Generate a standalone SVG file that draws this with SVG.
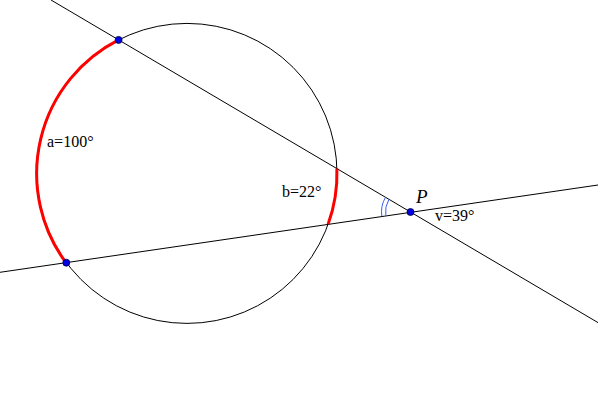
<svg xmlns="http://www.w3.org/2000/svg" width="600" height="400" viewBox="0 0 600 400">
<style>
.ln{stroke:#000;stroke-width:1;fill:none}
.arc{stroke:#ff0000;stroke-width:3;fill:none}
.ang{stroke:#3b5cf0;stroke-width:1;fill:none}
.pt{fill:#0000e0;stroke:#000040;stroke-width:0.8}
.lbl{font-family:"Liberation Serif","Times New Roman",serif;font-size:16px;fill:#000}
.pl{font-family:"Liberation Serif","Times New Roman",serif;font-size:19px;font-style:italic;fill:#000}
</style>
<rect width="600" height="400" fill="#fff"/>
<g id="connectors">
<line class="ln" x1="51" y1="0" x2="598" y2="322.6"/>
<line class="ln" x1="0" y1="272.3" x2="598" y2="185"/>
</g>
<g id="circle">
<circle class="ln" cx="187" cy="173.4" r="150"/>
<path class="arc" d="M118.6,39.9 A150,150 0 0 0 66,262.7"/>
<path class="arc" d="M336.9,168.6 A150,150 0 0 1 328.1,224.35"/>
</g>
<g id="angle">
<path class="ang" d="M385.76,215.57 A25,25 0 0 1 388.96,199.31"/>
<path class="ang" d="M381.8,216.1 A29,29 0 0 1 385.5,197.3"/>
</g>
<g id="pointA"><circle class="pt" cx="118.6" cy="39.9" r="3.5"/></g>
<g id="pointB"><circle class="pt" cx="66.3" cy="262.7" r="3.5"/></g>
<g id="pointP"><circle class="pt" cx="410.5" cy="212" r="3.5"/></g>
<g id="labels">
<text class="lbl" x="47" y="147.3">a=100°</text>
<text class="lbl" x="282" y="196.7">b=22°</text>
<text class="pl" x="416" y="203.3">P</text>
<text class="lbl" x="435" y="220.7">v=39°</text>
</g>
</svg>
